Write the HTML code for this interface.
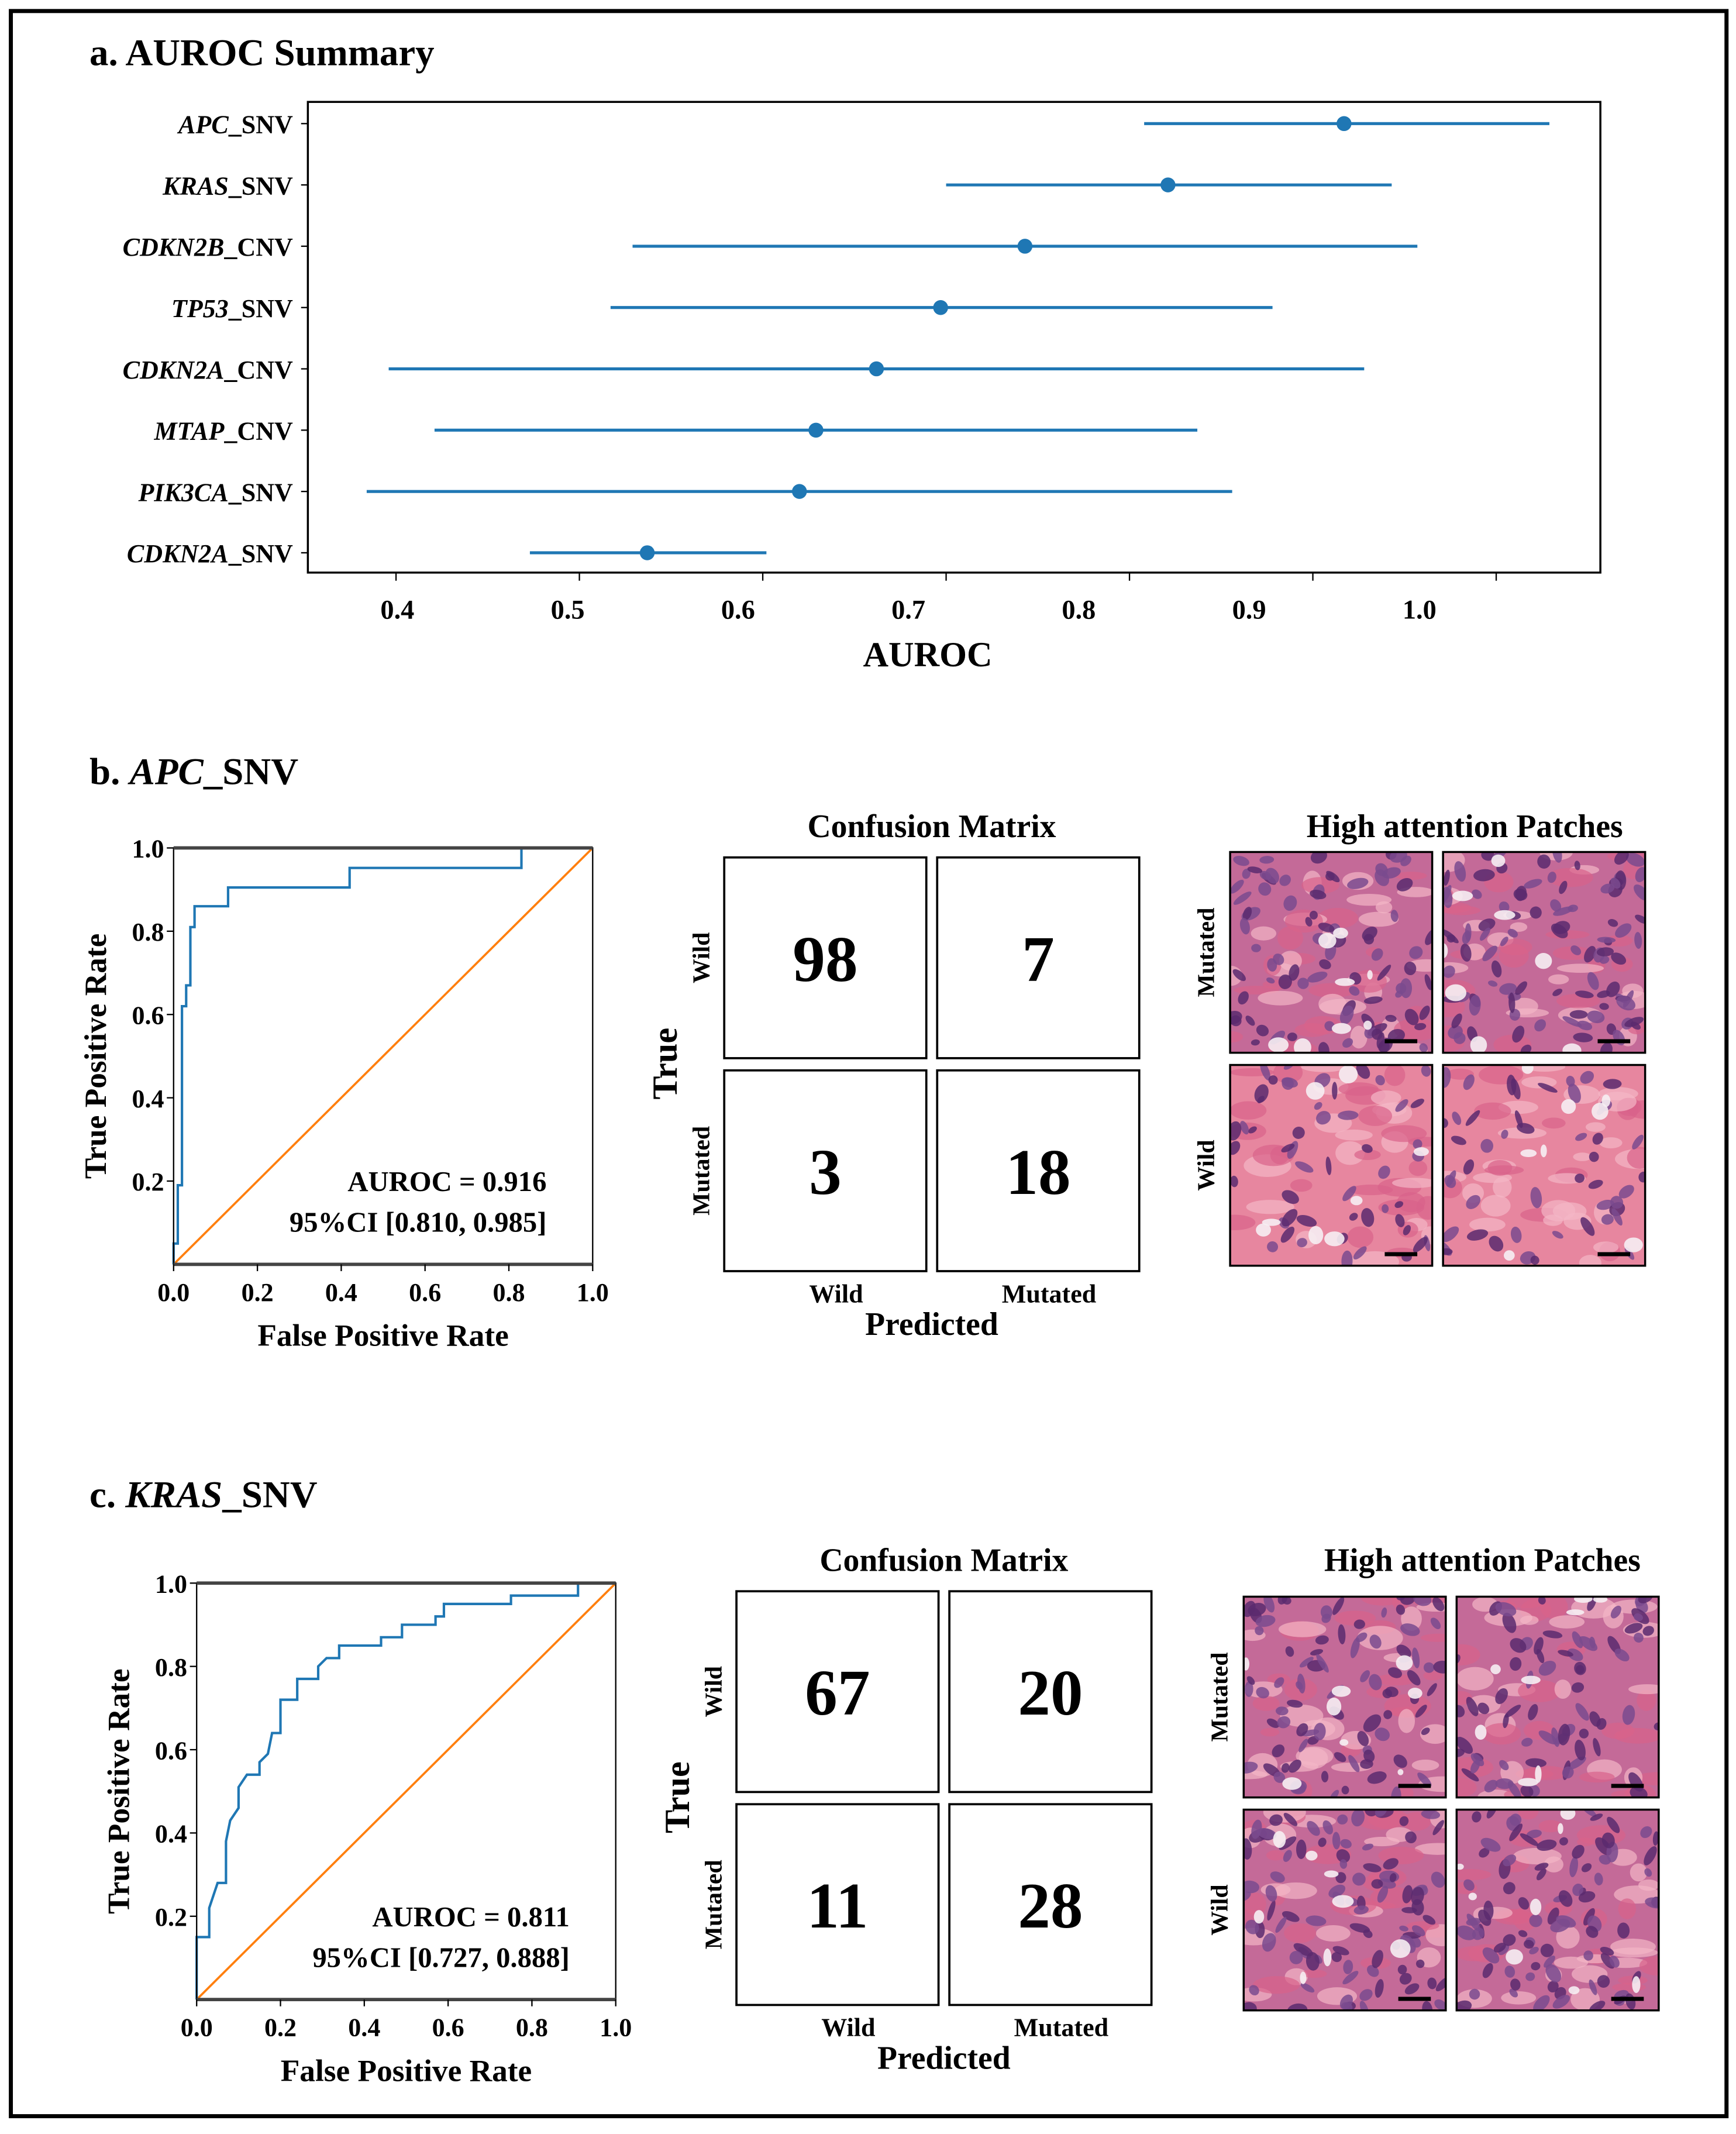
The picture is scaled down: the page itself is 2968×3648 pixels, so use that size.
<!DOCTYPE html>
<html><head><meta charset="utf-8">
<style>
html,body{margin:0;padding:0;background:#fff;}
svg{display:block;}
text{font-family:"Liberation Serif",serif;font-weight:bold;fill:#000;}
</style></head>
<body>
<svg id="fig" width="2968" height="3648" viewBox="0 0 1280 1573" xmlns="http://www.w3.org/2000/svg">
<rect x="8" y="8" width="1265" height="1552" fill="#fff" stroke="#000" stroke-width="3"/>
<text x="66" y="48" font-size="28">a. AUROC Summary</text>
<g id="pa"></g>
<text x="684" y="491" font-size="26" text-anchor="middle">AUROC</text>

<text x="66" y="578" font-size="28">b. <tspan font-style="italic">APC</tspan>_SNV</text>
<text x="66" y="1111" font-size="28">c. <tspan font-style="italic">KRAS</tspan>_SNV</text>
<g id="rocb"></g>
<g id="rocc"></g>
<g id="cmb"></g>
<g id="cmc"></g>
<g id="pb"></g>
<g id="pc"></g>
</svg>
<script>
// ---- Panel a data ----
const genes = ["APC","KRAS","CDKN2B","TP53","CDKN2A","MTAP","PIK3CA","CDKN2A"];
const suffixes = ["_SNV","_SNV","_CNV","_SNV","_CNV","_CNV","_SNV","_SNV"];
const aurocMean = [0.917,0.821,0.743,0.697,0.662,0.629,0.620,0.537];
const ciLow = [0.808,0.700,0.529,0.517,0.396,0.421,0.384,0.473];
const ciHigh = [1.029,0.943,0.957,0.878,0.928,0.837,0.856,0.602];
const xTicks = [0.4,0.5,0.6,0.7,0.8,0.9,1.0];
const xTickLabels = ["0.4","0.5","0.6","0.7","0.8","0.9","1.0"];
// ---- ROC data ----
const apcFpr = [0,0,0.01,0.01,0.02,0.02,0.03,0.03,0.04,0.04,0.05,0.05,0.13,0.13,0.42,0.42,0.83,0.83,1];
const apcTpr = [0,0.05,0.05,0.19,0.19,0.62,0.62,0.67,0.67,0.81,0.81,0.86,0.86,0.905,0.905,0.952,0.952,1,1];
const krasFpr = [0,0,0.03,0.03,0.04,0.05,0.07,0.07,0.08,0.10,0.10,0.12,0.15,0.15,0.17,0.18,0.20,0.20,0.24,0.24,0.29,0.29,0.31,0.34,0.34,0.44,0.44,0.49,0.49,0.57,0.57,0.59,0.59,0.75,0.75,0.91,0.91,1];
const krasTpr = [0,0.15,0.15,0.22,0.25,0.28,0.28,0.38,0.43,0.46,0.51,0.54,0.54,0.57,0.59,0.64,0.64,0.72,0.72,0.77,0.77,0.80,0.82,0.82,0.85,0.85,0.87,0.87,0.90,0.90,0.92,0.92,0.95,0.95,0.97,0.97,1,1];
const rocTicks = [0,0.2,0.4,0.6,0.8,1.0];
const rocTickLabels = ["0.0","0.2","0.4","0.6","0.8","1.0"];
const apcCm = [98,7,3,18];
const krasCm = [67,20,11,28];

const NS="http://www.w3.org/2000/svg";
function mk(parent,tag,attrs,txt){const e=document.createElementNS(NS,tag);for(const k in attrs)e.setAttribute(k,attrs[k]);if(txt!==undefined)e.textContent=txt;parent.appendChild(e);return e;}

// ---- Panel a ----
(function(){
  const g=document.getElementById('pa');
  const X=v=>292+(v-0.4)*1352;
  const XL=v=>293+(v-0.4)*1256;
  const rowY=i=>91+i*45.2;
  const box=mk(g,'rect',{x:227,y:75,width:953,height:347,fill:'none',stroke:'#000','stroke-width':1.5});
  
  
  xTicks.forEach((v,i)=>{
    const t=mk(g,'line',{x1:X(v),x2:X(v),y1:422,y2:428,stroke:'#000','stroke-width':1});
    
    
    const l=mk(g,'text',{x:XL(v),y:456,'font-size':20,'text-anchor':'middle'},xTickLabels[i]);
    
    
  });
  genes.forEach((gn,i)=>{
    const y=rowY(i);
    const t=mk(g,'line',{x1:222,x2:227,y1:y,y2:y,stroke:'#000','stroke-width':1});
    
    
    const l=mk(g,'text',{x:216,y:y+7,'font-size':19,'text-anchor':'end'});
    
    
    mk(l,'tspan',{'font-style':'italic'},gn);
    mk(l,'tspan',{},suffixes[i]);
    const ln=mk(g,'line',{x1:X(ciLow[i]),x2:X(ciHigh[i]),y1:y,y2:y,stroke:'#1f77b4','stroke-width':2.2});
    
    
    const c=mk(g,'circle',{cx:X(aurocMean[i]),cy:y,r:5.5,fill:'#1f77b4'});
    
    
  });
})();

// ---- ROC ----
function roc(id,x0,y0,w,h,fpr,tpr,auc,ci){
  const g=document.getElementById(id);
  const X=v=>x0+v*w, Y=v=>y0+h-v*h;
  const d=mk(g,'line',{x1:X(0),y1:Y(0),x2:X(1),y2:Y(1),stroke:'#ff7f0e','stroke-width':1.6});
  
  
  const pts=fpr.map((f,i)=>X(f)+','+Y(tpr[i])).join(' ');
  const p=mk(g,'polyline',{points:pts,fill:'none',stroke:'#1f77b4','stroke-width':1.8});
  
  
  const b=mk(g,'rect',{x:x0,y:y0,width:w,height:h,fill:'none',stroke:'#000','stroke-width':1});
  
  
  mk(g,'line',{x1:x0,x2:x0+w,y1:y0,y2:y0,stroke:'#444','stroke-width':2.5});
  mk(g,'line',{x1:x0,x2:x0+w,y1:y0+h,y2:y0+h,stroke:'#444','stroke-width':2.5});
  rocTicks.forEach((v,i)=>{
    const tx=mk(g,'line',{x1:X(v),x2:X(v),y1:y0+h,y2:y0+h+5,stroke:'#000'});
    
    
    const lx=mk(g,'text',{x:X(v),y:y0+h+27,'font-size':19,'text-anchor':'middle'},rocTickLabels[i]);
    
    
    if(v>0){
      const ty=mk(g,'line',{x1:x0-5,x2:x0,y1:Y(v),y2:Y(v),stroke:'#000'});
      
      
      const ly=mk(g,'text',{x:x0-7,y:Y(v)+7,'font-size':19,'text-anchor':'end'},rocTickLabels[i]);
      
      
    }
  });
  const yl=mk(g,'text',{x:0,y:0,'font-size':23,'text-anchor':'middle',transform:`translate(${x0-50},${y0+h/2}) rotate(-90)`},'True Positive Rate');
  
  
  const xl=mk(g,'text',{x:x0+w/2,y:y0+h+60,'font-size':23,'text-anchor':'middle'},'False Positive Rate');
  
  
  const a=mk(g,'text',{x:x0+w-34,y:y0+h-54,'font-size':21,'text-anchor':'end'},auc);
  
  
  const c=mk(g,'text',{x:x0+w-34,y:y0+h-24,'font-size':21,'text-anchor':'end'},ci);
  
  
}
roc('rocb',128,625,309,307,apcFpr,apcTpr,'AUROC = 0.916','95%CI [0.810, 0.985]');
roc('rocc',145,1167,309,307,krasFpr,krasTpr,'AUROC = 0.811','95%CI [0.727, 0.888]');

// ---- Confusion matrix ----
function cm(id,x0,y0,vals){
  const g=document.getElementById(id);
  const cw=149,ch=148,gap=8;
  const t=mk(g,'text',{x:x0+cw+gap/2,y:y0-15,'font-size':24,'text-anchor':'middle'},'Confusion Matrix');
  
  
  for(let r=0;r<2;r++)for(let c=0;c<2;c++){
    const x=x0+c*(cw+gap),y=y0+r*(ch+9);
    const rc=mk(g,'rect',{x:x,y:y,width:cw,height:ch,fill:'#fff',stroke:'#000','stroke-width':1.6});
    
    
    const n=mk(g,'text',{x:x+cw/2,y:y+ch/2+17,'font-size':48,'text-anchor':'middle'},String(vals[r*2+c]));
    
    
  }
  const w=mk(g,'text',{x:0,y:0,'font-size':18,'text-anchor':'middle',transform:`translate(${x0-11},${y0+ch/2}) rotate(-90)`},'Wild');
  
  
  const m=mk(g,'text',{x:0,y:0,'font-size':18,'text-anchor':'middle',transform:`translate(${x0-11},${y0+ch+9+ch/2}) rotate(-90)`},'Mutated');
  
  
  const tr=mk(g,'text',{x:0,y:0,'font-size':26,'text-anchor':'middle',transform:`translate(${x0-35},${y0+ch+4}) rotate(-90)`},'True');
  
  
  const pw=mk(g,'text',{x:x0+cw/2+8,y:y0+2*ch+9+23,'font-size':19,'text-anchor':'middle'},'Wild');
  
  
  const pm=mk(g,'text',{x:x0+cw+gap+cw/2+8,y:y0+2*ch+9+23,'font-size':19,'text-anchor':'middle'},'Mutated');
  
  
  const pr=mk(g,'text',{x:x0+cw+gap/2,y:y0+2*ch+9+47,'font-size':24,'text-anchor':'middle'},'Predicted');
  
  
}
cm('cmb',534,632,apcCm);
cm('cmc',543,1173,krasCm);

// ---- Patches (decorative histology texture) ----
let seed=7;
function rnd(){seed=(seed*16807)%2147483647;return seed/2147483647;}
function patches(id,x0,y0,titleX,titleY,dens){
  const g=document.getElementById(id);
  const t=mk(g,'text',{x:titleX,y:titleY,'font-size':24,'text-anchor':'middle'},'High attention Patches');
  
  
  const w=149,h=148;
  for(let r=0;r<2;r++)for(let c=0;c<2;c++){
    const x=x0+c*157,y=y0+r*157;
    const clip=mk(g,'clipPath',{id:id+'c'+r+c});
    mk(clip,'rect',{x:x,y:y,width:w,height:h});
    const pg=mk(g,'g',{'clip-path':`url(#${id}c${r}${c})`});
    
    
    const d=dens[r*2+c];
    mk(pg,'rect',{x:x,y:y,width:w,height:h,fill:d>0.5?'#c46a98':'#e7869f'});
    for(let i=0;i<40;i++){
      mk(pg,'ellipse',{cx:x+rnd()*w,cy:y+rnd()*h,rx:6+rnd()*12,ry:3+rnd()*6,fill:rnd()<0.5?'#f4b6c6':'#d9628a',opacity:0.7});
    }
    const n=Math.round(30+d*70);
    for(let i=0;i<n;i++){
      const cx=x+rnd()*w,cy=y+rnd()*h,rot=rnd()*180;
      mk(pg,'ellipse',{cx:cx,cy:cy,rx:3+rnd()*5,ry:2+rnd()*3,fill:rnd()<0.5?'#5a2a6e':'#7a4a8e',opacity:0.85,transform:`rotate(${rot} ${cx} ${cy})`});
    }
    for(let i=0;i<8;i++){
      mk(pg,'ellipse',{cx:x+rnd()*w,cy:y+rnd()*h,rx:2+rnd()*6,ry:2+rnd()*5,fill:'#f6eef3',opacity:0.9});
    }
    mk(pg,'rect',{x:x+w-35,y:y+h-10,width:24,height:3,fill:'#000'});
    mk(g,'rect',{x:x,y:y,width:w,height:h,fill:'none',stroke:'#000','stroke-width':1.5});
  }
  const m=mk(g,'text',{x:0,y:0,'font-size':18,'text-anchor':'middle',transform:`translate(${x0-12},${y0+h/2}) rotate(-90)`},'Mutated');
  
  
  const wl=mk(g,'text',{x:0,y:0,'font-size':18,'text-anchor':'middle',transform:`translate(${x0-12},${y0+157+h/2}) rotate(-90)`},'Wild');
  
  
}
patches('pb',907,628,1080,617,[0.8,0.95,0.3,0.25]);
patches('pc',917,1177,1093,1158,[0.8,0.6,0.95,0.85]);
</script>
</body></html>
